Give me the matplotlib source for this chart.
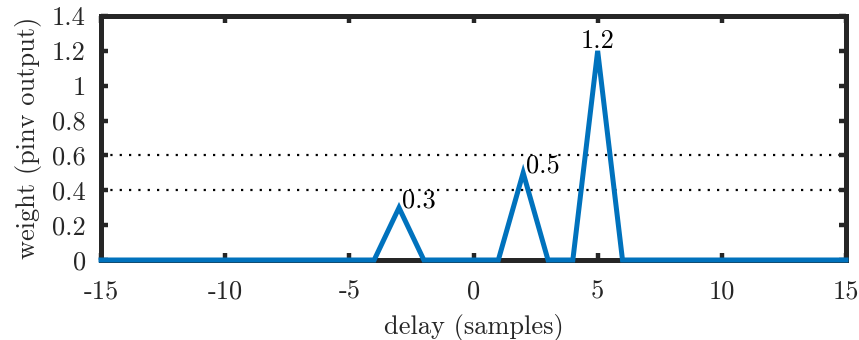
import matplotlib
matplotlib.use("Agg")
import matplotlib.pyplot as plt
import numpy as np

# pinv output weights per delay
delay = list(range(-15, 16))
weight = [0.0] * len(delay)
weight[delay.index(-3)] = 0.3
weight[delay.index(2)] = 0.5
weight[delay.index(5)] = 1.2

thresholds = [0.4, 0.6]
peak_delays = [-3, 2, 5]
peak_labels = ['0.3', '0.5', '1.2']

xticks = [-15, -10, -5, 0, 5, 10, 15]
yticks = [0, 0.2, 0.4, 0.6, 0.8, 1, 1.2, 1.4]
ytick_labels = ['0', '0.2', '0.4', '0.6', '0.8', '1', '1.2', '1.4']

plt.rcParams['font.family'] = ['cmr10', 'DejaVu Serif']
plt.rcParams['font.size'] = 19

fig = plt.figure(figsize=(8.59, 3.4), dpi=100)
ax = fig.add_axes([101/859, 1 - 260/340, 745/859, 244/340])

for th in thresholds:
    ax.axhline(th, color='black', linestyle=(0, (1, 3.2)), linewidth=1.6, zorder=1)

ax.plot(delay, weight, color='#0072BD', linewidth=3.6, zorder=3, clip_on=False,
        solid_joinstyle='miter')

# value labels next to the peaks
for d, lab in zip(peak_delays, peak_labels):
    w = weight[delay.index(d)]
    if d == 5:
        ax.text(d, w - 0.01, lab, ha='center', va='bottom', fontsize=19)
    else:
        ax.text(d + 0.12, w - 0.025, lab, ha='left', va='bottom', fontsize=19)

ax.set_xlim(-15, 15)
ax.set_ylim(0, 1.4)
ax.set_xticks(xticks)
ax.set_xticklabels([str(t) for t in xticks])
ax.set_yticks(yticks)
ax.set_yticklabels(ytick_labels)
ax.tick_params(direction='in', length=5, width=3.2, color='#262626',
               top=True, right=True, labelcolor='#262626')
ax.tick_params(axis='x', pad=14)
ax.tick_params(axis='y', pad=11)
for s in ax.spines.values():
    s.set_linewidth(3.6)
    s.set_color('#262626')
    s.set_zorder(2)

ax.set_xlabel('delay (samples)', color='#262626', labelpad=8)
ax.set_ylabel('weight (pinv output)', color='#262626', labelpad=7)

fig.savefig('out.png', dpi=100)
